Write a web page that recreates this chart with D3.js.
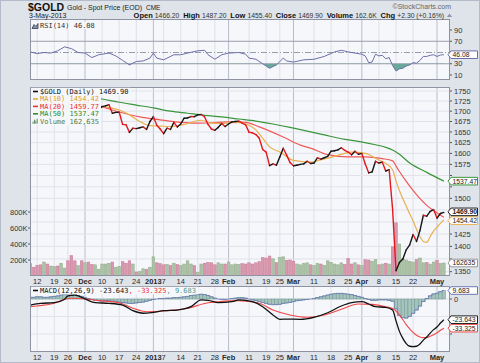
<!DOCTYPE html>
<html lang="en">
<head>
<meta charset="utf-8">
<title>$GOLD Daily</title>
<script src="https://cdn.jsdelivr.net/npm/d3@7"></script>
<style>
  body { margin: 0; background: #fff; }
  svg { display: block; }
  text { font-family: "Liberation Sans", Arial, sans-serif; }
  .mono { font-family: "DejaVu Sans Mono", monospace; }
</style>
</head>
<body>
<script>
// trading calendar
var startDate = "2012-11-08", endDate = "2013-05-03";
var holidays = ["2012-11-22", "2012-12-25", "2013-01-01", "2013-02-18", "2013-03-29"];

// x axis ticks
var tickDates = ["2012-11-12","2012-11-19","2012-11-26","2012-12-03","2012-12-10","2012-12-17","2012-12-24",
  "2013-01-02","2013-01-07","2013-01-14","2013-01-21","2013-01-28","2013-02-01","2013-02-11","2013-02-19",
  "2013-02-25","2013-03-01","2013-03-11","2013-03-18","2013-03-25","2013-04-01","2013-04-08","2013-04-15",
  "2013-04-22","2013-05-01"];
var tickLabels = ["12","19","26","Dec","10","17","24","2013","7","14","21","28","Feb","11","19","25","Mar",
  "11","18","25","Apr","8","15","22","May"];
var monthLabels = ["Dec","2013","Feb","Mar","Apr","May"];

// daily close
var closes = [1730.5,1730,1728.5,1724,1730,1713.5,1714,1733,1727,1729,1751,1749,1741,1722,1729,1712,
  1719,1696,1694,1701,1705,1711,1713,1716,1695,1697,1697.5,1668,1667,1649,1659,1658,1660,1662,1656,1675,
  1687,1666,1657,1646,1659,1656,1673,1662,1669,1683,1683.5,1687,1686.5,1691,1692,1686,1668,1657,1654,1661,1670,1663,
  1669,1674,1675,1676,1671,1667,1649,1648,1644,1635,1609,1603,1572,1576,1573,1592,1612,1596,1579,
  1572,1573,1575,1576,1582,1577,1578,1590,1587,1590,1593,1605,1606,1608,1613,1607,1603,1597,1605,1598,
  1600,1576,1556,1558,1582,1578,1580,1560,1563,1477,1352,1368,1375,1393,1403,1424,1410,1432,1464,1462,1472,1476,
  1458,1467.6,1469.9];

// daily volume (thousands)
var volumes = [155,110,135,140,175,150,125,120,125,160,100,190,255,190,130,190,
  165,175,145,140,85,150,150,160,175,110,120,180,160,190,150,50,55,90,85,110,
  240,165,155,140,145,130,160,145,130,150,190,150,130,45,150,160,170,165,140,165,150,150,
  175,140,150,145,155,150,165,150,165,180,230,225,250,215,170,235,240,195,200,
  185,150,140,160,165,140,130,160,150,135,190,170,150,140,165,145,220,150,165,140,
  130,205,200,185,205,140,150,160,150,365,665,400,215,200,185,175,205,225,165,170,150,175,
  195,155,162.635];

// moving averages, [day index, value]
var ma10 = [[16,1723],[20,1714],[23,1709],[26,1703],[29,1691],[32,1675],[35,1665],[38,1664],[41,1663],[45,1668],
  [50,1678],[53,1671],[56,1670],[59,1672],[62,1672],[64,1666],[66,1655],[68,1635],[70,1615],[73,1603],[77,1584],
  [82,1580],[85,1585],[89,1593],[94,1603],[98,1600],[102,1585],[104,1577],[106,1563],[107,1538],[108,1517],
  [110,1483],[112,1452],[114,1420],[115,1410],[116,1408],[117,1420],[118,1431],[119,1439],[120,1447],[121,1454.42]];
var ma20 = [[16,1720],[20,1713],[26,1698],[32,1686],[38,1679],[44,1673],[48,1671],[53,1672],[58,1674],[63,1673],
  [67,1662],[74,1638],[79,1619],[82,1612],[87,1597],[93,1592],[98,1592],[103,1588],[106,1583],[107,1571],
  [108,1559],[110,1537],[113,1508],[116,1485],[118,1474],[121,1459.77]];
var ma50 = [[16,1736],[21,1730],[26,1722],[31,1715],[36,1708],[41,1700],[46,1695],[51,1690],[56,1686],[61,1681],
  [66,1676],[71,1669],[76,1661],[81,1652],[86,1643],[91,1634],[96,1628],[101,1620],[104,1614],[106,1608],
  [108,1598],[111,1578],[116,1557],[121,1537.47]];

// RSI(14), [day index, value]
var rsi = [[0,51],[2,48],[4,50],[6,49],[8,53],[10,60],[12,57],[14,50],[16,49],[18,41],[20,46],[23,49],[25,44],
  [27,36],[29,28],[31,34],[33,35],[35,40],[36,49],[37,40],[39,37],[42,46],[44,46],[46,49],[49,53],[51,54],[52,46],
  [54,38],[56,46],[58,49],[61,50],[63,47],[64,40],[66,38],[68,30],[70,22],[72,28],[74,40],[75,35],[77,33],[80,37],
  [83,38],[86,43],[89,51],[91,54],[93,51],[95,49],[97,47],[98,44],[99,32],[100,33],[101,47],[102,44],[103,45],
  [104,39],[105,41],[106,27],[107,17],[108,21],[109,22],[110,26],[111,28],[112,32],[113,31],[114,36],[115,43],
  [116,43],[117,45],[118,46],[119,43],[120,45.5],[121,46.08]];

// MACD(12,26,9), [day index, value]
var macd = [[0,-6.9],[3,-4.9],[7,-4.2],[10,-0.3],[11,3.5],[13,4.5],[15,1.9],[19,-4.2],[23,-4.9],[27,-6.9],
  [30,-13.4],[33,-16.3],[36,-15.2],[39,-13.4],[43,-12.6],[47,-8.8],[50,-1.1],[52,-1.5],[55,-4.2],[59,-3.1],
  [61,-1.1],[65,-3.1],[68,-8.8],[71,-18.3],[73,-23.2],[75,-22.9],[79,-23.2],[83,-20.9],[87,-15.7],[91,-8],
  [94,-4.2],[97,-3.1],[99,-5.7],[101,-8.8],[104,-9.5],[106,-12.6],[107,-25],[108,-37],[109,-45],[110,-51],
  [111,-54],[112,-54.5],[113,-54],[114,-51.5],[115,-47],[116,-43.5],[117,-39],[118,-35],[119,-32],[120,-27.5],
  [121,-23.643]];
var signal = [[0,-8.8],[6,-5.7],[12,0.8],[17,-0.3],[20,-1.9],[26,-4.2],[30,-10.6],[34,-14.5],[40,-13.4],
  [46,-10.6],[52,-4.2],[55,-3.1],[61,-1.9],[67,-4.9],[71,-12.6],[76,-18.3],[81,-20.9],[86,-18.3],[91,-11.8],
  [96,-5.7],[100,-6.1],[104,-8.8],[106,-10.9],[107,-13.7],[108,-18.4],[109,-23.7],[110,-29.2],[111,-34.1],
  [112,-38.2],[113,-41.4],[114,-43.4],[115,-44.1],[116,-44],[117,-42.6],[118,-40.8],[119,-38.6],[120,-35.75],
  [121,-33.325]];
// histogram, one per day
var hist = [2,2,2.5,2.5,2,2,2.5,3,3.5, 4.5,5.5,6,6,5,4, 3,1.5,0.5,-0.5,
  -1.5,-2,-2.5,-2,-2,-2.5,-3,-3.5,-4,-4.5,-5,-5,-4.5,-4,-3.5,-2.5,-1.5,
  -0.5,0,0.5,0.5,1,1,1.5,1.5,2, 2.5,3,4,4.5,5,5.5,5,4,
  2.5,1,0,-0.5,-0.5,0,0.5,1,1.5,1.5,
  1,0,-1,-2,-3,-4,-5,-6,-6.5,-6.5,-6,-5,-4.5,-4,-3,-2,
  -1.5,-1,-0.5,0,0.5,
  1.5,2.5,3.5,4.5,5.5,6,6.5,6.5,6,5.5,5,4,3,2,
  0.5,-0.5,-1.5,-1.5,-1,-1,-1,-1.5,-2.5,
  -11.3,-18.6,-21.3,-21.8,-19.9,-16.3,-12.6,-8.1,-2.9,0.5,3.6,5.8,6.6,8.25,9.683];

var priceTicks = d3.range(1350, 1751, 25);
var volTicks = [200, 400, 600, 800];
var rsiTicks = [90, 70, 50, 30, 10];
var macdTicks = [0, -20, -40];

// layout
var W = 480, H = 363, L = 30, R = 450;
var rsiTop = 19, rsiBot = 80, mainTop = 87, mainBot = 276, macdTop = 286, macdBot = 352;

var parse = d3.timeParse("%Y-%m-%d"), fmt = d3.timeFormat("%Y-%m-%d");
var days = d3.timeDay.range(parse(startDate), d3.timeDay.offset(parse(endDate), 1))
  .filter(function(d) { return d.getDay() > 0 && d.getDay() < 6 && holidays.indexOf(fmt(d)) < 0; })
  .map(fmt);
var idx = {};
days.forEach(function(d, i) { idx[d] = i; });
var n = days.length;

var x = d3.scaleLinear().domain([-0.1, n + 0.8]).range([L, R]);
var yP = d3.scaleLog().domain([1350, 1750]).range([271.7, 91]);
var yV = d3.scaleLinear().domain([0, 800]).range([mainBot, 212]);
var yR = d3.scaleLinear().domain([10, 90]).range([75, 30]);
var yM = d3.scaleLinear().domain([-40, 0]).range([334, 299]);

var svg = d3.select("body").append("svg").attr("width", W).attr("height", H);
svg.append("rect").attr("width", W).attr("height", H).attr("fill", "#dfe3ea");
svg.append("rect").attr("x", 0.5).attr("y", 0.5).attr("width", W - 1).attr("height", H - 1)
  .attr("fill", "none").attr("stroke", "#b4bccb");

var defs = svg.append("defs");
function clip(id, top, bot) {
  defs.append("clipPath").attr("id", id).append("rect")
    .attr("x", L).attr("y", top).attr("width", R - L).attr("height", bot - top);
  return "url(#" + id + ")";
}
var clipRsi = clip("cr", rsiTop, rsiBot), clipMain = clip("cm", mainTop, mainBot), clipMacd = clip("cd", macdTop, macdBot);

// panel backgrounds and vertical grid
[[rsiTop, rsiBot], [mainTop, mainBot], [macdTop, macdBot]].forEach(function(p) {
  svg.append("rect").attr("x", L).attr("y", p[0]).attr("width", R - L).attr("height", p[1] - p[0])
    .attr("fill", "#f6f7fb");
  tickDates.forEach(function(d, k) {
    var month = monthLabels.indexOf(tickLabels[k]) >= 0;
    svg.append("line").attr("x1", x(idx[d])).attr("x2", x(idx[d])).attr("y1", p[0]).attr("y2", p[1])
      .attr("stroke", month ? "#b9bccb" : "#dfe0e8").attr("stroke-width", 1);
  });
});

// horizontal grid
priceTicks.forEach(function(t) {
  svg.append("line").attr("x1", L).attr("x2", R).attr("y1", yP(t)).attr("y2", yP(t)).attr("stroke", "#e1e2ea");
});
[70, 30].forEach(function(t) {
  svg.append("line").attr("x1", L).attr("x2", R).attr("y1", yR(t)).attr("y2", yR(t)).attr("stroke", "#9a9ca8");
});
svg.append("line").attr("x1", L).attr("x2", R).attr("y1", yR(50)).attr("y2", yR(50))
  .attr("stroke", "#9a9ca8").attr("stroke-dasharray", "6,2,1,2");
macdTicks.forEach(function(t) {
  svg.append("line").attr("x1", L).attr("x2", R).attr("y1", yM(t)).attr("y2", yM(t)).attr("stroke", "#e1e2ea");
});

// RSI
var gR = svg.append("g").attr("clip-path", clipRsi);
defs.append("clipPath").attr("id", "below30").append("rect")
  .attr("x", L).attr("y", yR(30)).attr("width", R - L).attr("height", rsiBot - yR(30));
gR.append("path").datum(rsi).attr("clip-path", "url(#below30)")
  .attr("d", d3.area().x(function(d) { return x(d[0]); }).y0(yR(30)).y1(function(d) { return yR(d[1]); }))
  .attr("fill", "#6aa99a");
gR.append("path").datum(rsi)
  .attr("d", d3.line().x(function(d) { return x(d[0]); }).y(function(d) { return yR(d[1]); }))
  .attr("fill", "none").attr("stroke", "#6d70a8").attr("stroke-width", 1);

// volume
var bw = (x(1) - x(0)) * 0.78;
var gM = svg.append("g").attr("clip-path", clipMain);
gM.selectAll("rect.vol").data(volumes).join("rect").attr("class", "vol")
  .attr("x", function(d, i) { return x(i) - bw / 2; })
  .attr("y", function(d) { return yV(d); })
  .attr("width", bw)
  .attr("height", function(d) { return mainBot - yV(d); })
  .attr("fill", function(d, i) { return i > 0 && closes[i] < closes[i - 1] ? "#d897ad" : "#acc2a6"; })
  .attr("stroke", function(d, i) { return i > 0 && closes[i] < closes[i - 1] ? "#c77a95" : "#90aa89"; })
  .attr("stroke-width", 0.5);

// moving averages
var maLine = d3.line().x(function(d) { return x(d[0]); }).y(function(d) { return yP(d[1]); }).curve(d3.curveMonotoneX);
[[ma50, "#3b963b"], [ma20, "#f05a5a"], [ma10, "#eab050"]].forEach(function(m) {
  gM.append("path").datum(m[0]).attr("d", maLine).attr("fill", "none").attr("stroke", m[1]).attr("stroke-width", 1.2);
});

// price line, black up / red down
gM.selectAll("line.seg").data(d3.range(1, n)).join("line").attr("class", "seg")
  .attr("x1", function(i) { return x(i - 1); }).attr("y1", function(i) { return yP(closes[i - 1]); })
  .attr("x2", function(i) { return x(i); }).attr("y2", function(i) { return yP(closes[i]); })
  .attr("stroke", function(i) { return closes[i] >= closes[i - 1] ? "#161616" : "#e4171c"; })
  .attr("stroke-width", 1.4).attr("stroke-linecap", "round");

// MACD
var gD = svg.append("g").attr("clip-path", clipMacd);
var hw = x(1) - x(0);
gD.selectAll("rect.h").data(hist).join("rect").attr("class", "h")
  .attr("x", function(d, i) { return x(i) - hw / 2; })
  .attr("y", function(d) { return Math.min(yM(d), yM(0)); })
  .attr("width", hw)
  .attr("height", function(d) { return Math.abs(yM(d) - yM(0)); })
  .attr("fill", "#a6c4bd").attr("stroke", "#6f9893").attr("stroke-width", 0.5);
gD.append("path").datum(hist)
  .attr("d", d3.line().x(function(d, i) { return x(i); }).y(function(d) { return yM(d); }).curve(d3.curveStep))
  .attr("fill", "none").attr("stroke", "#6a78b6").attr("stroke-width", 0.8);
var mLine = d3.line().x(function(d) { return x(d[0]); }).y(function(d) { return yM(d[1]); }).curve(d3.curveMonotoneX);
gD.append("path").datum(signal).attr("d", mLine).attr("fill", "none").attr("stroke", "#f04848").attr("stroke-width", 1.1);
gD.append("path").datum(macd).attr("d", mLine).attr("fill", "none").attr("stroke", "#111").attr("stroke-width", 1.3);

// panel borders
[[rsiTop, rsiBot], [mainTop, mainBot], [macdTop, macdBot]].forEach(function(p) {
  svg.append("rect").attr("x", L + 0.5).attr("y", p[0] + 0.5).attr("width", R - L - 1).attr("height", p[1] - p[0] - 1)
    .attr("fill", "none").attr("stroke", "#8e92a2");
});

// legends
function legendRow(y, x0, parts, icon, iconColor) {
  var g = svg.append("g");
  var bg = g.append("rect").attr("fill", "#f6f7fb");
  if (icon === "line") {
    g.append("line").attr("x1", x0 - 7).attr("x2", x0 - 2).attr("y1", y).attr("y2", y)
      .attr("stroke", iconColor).attr("stroke-width", 1.6);
  } else if (icon === "bars") {
    [2, 4, 3, 5].forEach(function(h, k) {
      g.append("rect").attr("x", x0 - 7.5 + k * 1.4).attr("y", y + 2.5 - h).attr("width", 1).attr("height", h).attr("fill", iconColor);
    });
  } else if (icon === "rsi") {
    g.append("path").attr("d", "M" + (x0 - 8) + "," + (y + 3) + " l2,-4 l2,2 l2,-3 v5 z").attr("fill", "#7a9ab8").attr("stroke", "#556");
  }
  var t = g.append("text").attr("class", "mono").attr("x", x0).attr("y", y).attr("dy", "0.35em")
    .style("font-size", "7px").style("white-space", "pre");
  parts.forEach(function(p) { t.append("tspan").attr("fill", p[1]).text(p[0]); });
  var b = t.node().getBBox();
  bg.attr("x", L + 1).attr("y", y - 3.7).attr("width", b.x + b.width - L + 1).attr("height", 7.5);
}
legendRow(25.5, 40, [["RSI(14) 46.08", "#333"]], "rsi");
legendRow(91.5, 40, [["$GOLD (Daily) 1469.90", "#111"]], "line", "#111");
legendRow(99, 40, [["MA(10) 1454.42", "#e09a28"]], "line", "#e8a838");
legendRow(106.4, 40, [["MA(20) 1459.77", "#ee2a2a"]], "line", "#ee3030");
legendRow(113.8, 40, [["MA(50) 1537.47", "#1f8a1f"]], "line", "#2a902a");
legendRow(121.2, 40, [["Volume 162,635", "#4d7d4d"]], "bars", "#5d8d5d");
legendRow(290.5, 40, [["MACD(12,26,9) -23.643", "#111"], [", -33.325", "#f03030"], [", 9.683", "#4f9a8c"]], "line", "#111");

// value tags on the right (positions first, so the axis labels they cover can be left out)
var tags = [
  [yR(46.08), "46.08", "#6d70a8", false],
  [yP(1537.47), "1537.47", "#3b963b", false],
  [yP(1454.42) + 0.8, "1454.42", "#eab050", false],
  [yP(1469.9) - 0.6, "1469.90", "#222", true],
  [yV(162.635), "162635", "#999", false],
  [yM(9.683), "9.683", "#6a78b6", false],
  [yM(-33.325), "-33.325", "#f04848", false],
  [yM(-23.643), "-23.643", "#222", false]
];
function covered(y) {
  return tags.some(function(t) { return Math.abs(t[0] - y) < 6.2; });
}

// axis labels
function rightLabel(y, t) {
  svg.append("line").attr("x1", R).attr("x2", R + 2).attr("y1", y).attr("y2", y).attr("stroke", "#555");
  if (covered(y)) return;
  svg.append("text").attr("x", R + 4).attr("y", y).attr("dy", "0.35em").style("font-size", "7.5px")
    .attr("fill", "#333").text(t);
}
rsiTicks.forEach(function(t) { rightLabel(yR(t), t); });
priceTicks.forEach(function(t) { rightLabel(yP(t), t); });
macdTicks.forEach(function(t) { rightLabel(yM(t), t); });
volTicks.forEach(function(t) {
  svg.append("line").attr("x1", L - 2).attr("x2", L).attr("y1", yV(t)).attr("y2", yV(t)).attr("stroke", "#555");
  svg.append("text").attr("x", L - 2.5).attr("y", yV(t)).attr("dy", "0.35em").attr("text-anchor", "end")
    .style("font-size", "7.5px").attr("fill", "#333").text(t + "K");
});
[281, 357].forEach(function(yy) {
  tickDates.forEach(function(d, k) {
    var month = monthLabels.indexOf(tickLabels[k]) >= 0;
    svg.append("text").attr("x", x(idx[d])).attr("y", yy).attr("dy", "0.35em").attr("text-anchor", "middle")
      .style("font-size", "7.5px").style("font-weight", month ? "bold" : "normal").attr("fill", "#2a2a2a")
      .text(tickLabels[k]);
  });
});

tags.forEach(function(t) {
  var y = t[0], g = svg.append("g");
  g.append("path").attr("d", "M" + (R - 2) + "," + y + " L" + (R + 1) + "," + (y - 3.8) + " H" + (R + 27.5) +
    " V" + (y + 3.8) + " H" + (R + 1) + " Z").attr("fill", "#fff").attr("stroke", t[2]).attr("stroke-width", 1);
  g.append("text").attr("x", R + 2.5).attr("y", y).attr("dy", "0.35em").style("font-size", "6.8px")
    .style("font-weight", t[3] ? "bold" : "normal").attr("fill", "#222").text(t[1]);
});

// header
svg.append("text").attr("x", 28).attr("y", 10.5).style("font-size", "10.5px").style("font-weight", "bold")
  .attr("fill", "#111").text("$GOLD");
svg.append("text").attr("x", 67).attr("y", 10).style("font-size", "7px").attr("fill", "#222")
  .text("Gold - Spot Price (EOD)");
svg.append("text").attr("x", 146).attr("y", 10).style("font-size", "6.5px").attr("fill", "#222").text("CME");
svg.append("text").attr("x", 29).attr("y", 17.8).style("font-size", "7px").attr("fill", "#222").text("3-May-2013");
svg.append("text").attr("x", 451).attr("y", 8.5).attr("text-anchor", "end").style("font-size", "7px")
  .attr("fill", "#666").text("\u00a9StockCharts.com");
var hdr = svg.append("text").attr("x", 446).attr("y", 17.8).attr("text-anchor", "end").style("white-space", "pre");
[["Open ", 1], ["1466.20  ", 0], ["High ", 1], ["1487.20  ", 0], ["Low ", 1], ["1455.40  ", 0], ["Close ", 1],
 ["1469.90  ", 0], ["Volume ", 1], ["162.6K  ", 0], ["Chg ", 1], ["+2.30 (+0.16%) ", 0]].forEach(function(p) {
  hdr.append("tspan").style("font-size", p[1] ? "7.5px" : "6.8px").style("font-weight", p[1] ? "bold" : "normal")
    .attr("fill", p[1] ? "#111" : "#333").text(p[0]);
});
svg.append("path").attr("d", "M447,17 l2.5,-3.5 l2.5,3.5 z").attr("fill", "#8a93b0");
</script>
</body>
</html>
